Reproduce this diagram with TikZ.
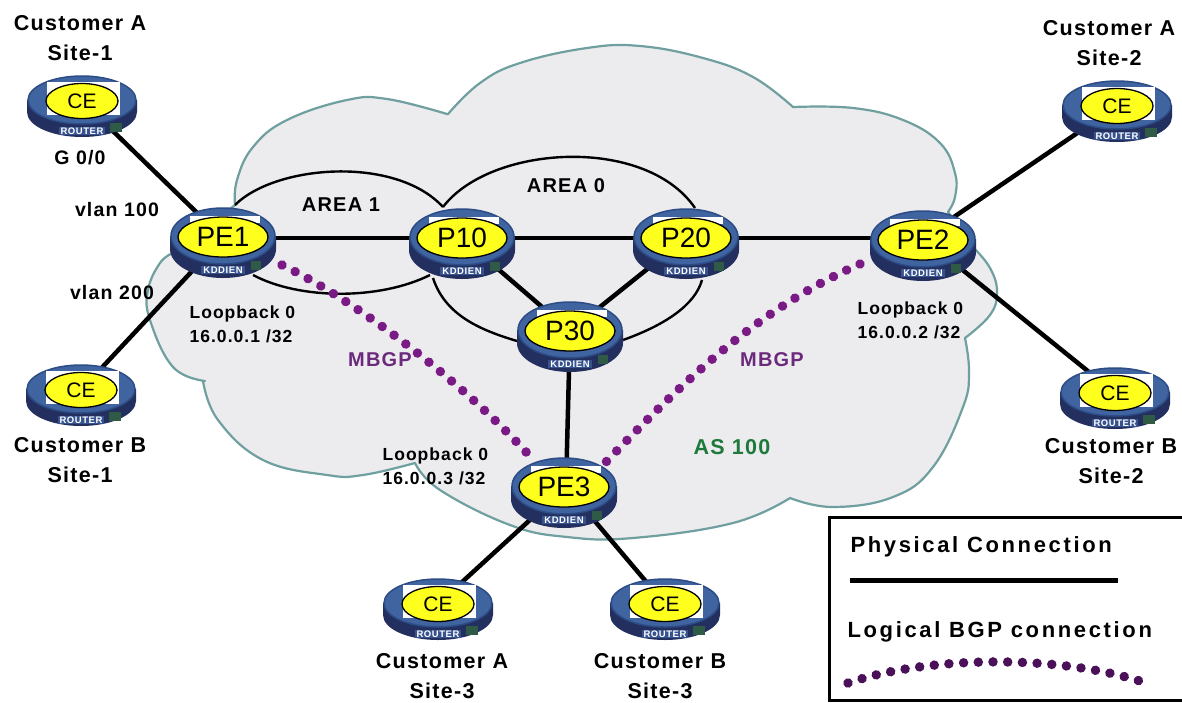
\documentclass[tikz,border=0pt]{standalone}
\usepackage{fontspec}
\setmainfont{Liberation Sans}
\newfontfamily\lsB[LetterSpace=12]{Liberation Sans}
\newfontfamily\lsC[LetterSpace=6]{Liberation Sans}
\usetikzlibrary{shapes.geometric}
\definecolor{cloudfill}{HTML}{ECEBEE}
\definecolor{cloudline}{HTML}{6F9F9F}
\definecolor{rblue}{HTML}{3F64A0}
\definecolor{rrim}{HTML}{2C4C86}
\definecolor{rdark}{HTML}{232F5E}
\definecolor{rstrip}{HTML}{36528F}
\definecolor{rgreen}{HTML}{2E5A46}
\definecolor{ryellow}{HTML}{FFFF1E}
\definecolor{mbgp}{HTML}{7A1A84}
\definecolor{mbgpdark}{HTML}{4A1058}
\definecolor{mbgptext}{HTML}{6B2A7B}
\definecolor{astext}{HTML}{1E7A3A}
\tikzset{
  thicklink/.style={line width=4.5pt,black},
  arealink/.style={line width=2.4pt,black},
  bgplink/.style={line width=9.5pt,mbgp,line cap=round,dash pattern=on 0.01pt off 14.7pt},
  bigface/.style={ellipse,draw=black,line width=1.3pt,fill=ryellow,minimum width=90pt,minimum height=40pt,inner sep=0pt,font=\fontsize{28}{28}\selectfont},
  ceface/.style={ellipse,draw=black,line width=1.3pt,fill=ryellow,minimum width=72pt,minimum height=35pt,inner sep=0pt,font=\fontsize{21}{21}\selectfont},
  strip/.style={fill=rstrip,text=white,inner xsep=2pt,inner ysep=1pt,font=\lsC\fontsize{9.5}{9.5}\bfseries\selectfont},
  site/.style={align=center,inner sep=0pt,font=\lsC\fontsize{21.5}{29.5}\bfseries\selectfont},
  port/.style={font=\lsC\fontsize{19.5}{19.5}\bfseries\selectfont},
  area/.style={font=\lsC\fontsize{20}{20}\bfseries\selectfont},
  loop/.style={align=left,anchor=west,font=\lsC\fontsize{17.5}{24}\bfseries\selectfont},
  bgptext/.style={text=mbgptext,font=\lsC\fontsize{20}{20}\bfseries\selectfont},
  legendtext/.style={anchor=west,font=\lsB\fontsize{22}{22}\bfseries\selectfont}
}
\newcommand\bigrouter[3]{%
  \begin{scope}[shift={(#2)}]
    \fill[rdark] (-53,12) arc[start angle=180,end angle=360,x radius=53pt,y radius=29pt] -- (53,-1) -- (-53,-1) -- cycle;
    \fill[rgreen] (28,24) rectangle (38,33);
    \filldraw[fill=rblue,draw=rrim,line width=1.5pt] (0,-1) ellipse[x radius=52pt,y radius=28pt];
    \fill[white] (-33,-21) rectangle (37,-14);
    \node[bigface] (#1) at (0,0) {#3};
    \node[strip] (#1tag) at (0,33) {KDDIEN};
  \end{scope}}
\newcommand\cerouter[2]{%
  \begin{scope}[shift={(#2)}]
    \fill[rdark] (-55,11) arc[start angle=180,end angle=360,x radius=55pt,y radius=25pt] -- (55,-1) -- (-55,-1) -- cycle;
    \fill[rgreen] (28,22) rectangle (40,31);
    \filldraw[fill=rblue,draw=rrim,line width=1.5pt] (0,-1) ellipse[x radius=54pt,y radius=24pt];
    \fill[white] (-35,-19) rectangle (38,14);
    \node[ceface] (#1) at (0,0) {CE};
    \node[strip] (#1tag) at (0,30) {ROUTER};
  \end{scope}}
\begin{document}
\begin{tikzpicture}[x=1pt,y=-1pt]
\useasboundingbox (0,0) rectangle (1182,702);
\fill[white] (0,0) rectangle (1182,702);
% cloud
\filldraw[fill=cloudfill,draw=cloudline,line width=2.2pt,line join=round]
  plot[smooth,tension=0.7] coordinates {(235,205) (237,180) (253,147) (287,120) (347,100) (387,99) (447,114)}
  -- plot[smooth,tension=0.7] coordinates {(448,114) (480,83) (520,63) (587,48) (640,46) (703,58) (753,77) (793,107)}
  -- plot[smooth,tension=0.7] coordinates {(793,107) (853,108) (903,120) (940,143) (955,173) (955,197) (948,212)}
  -- (973,247)
  -- plot[smooth,tension=0.7] coordinates {(973,247) (990,268) (997,292) (990,315) (965,338)}
  -- plot[smooth,tension=0.7] coordinates {(965,338) (969,372) (963,407) (933,467) (893,497) (833,507) (790,498)}
  -- plot[smooth,tension=0.7] coordinates {(790,498) (733,523) (633,538) (567,537) (510,525) (440,490) (415,463)}
  -- plot[smooth,tension=0.7] coordinates {(415,463) (363,475) (327,475) (263,460) (218,420) (203,381)}
  -- plot[smooth,tension=0.7] coordinates {(205,381) (173,367) (150,320) (148,290) (160,263) (173,253)}
  -- cycle;
% named ends of the area rings and BGP links
\coordinate (a1s) at (235,205);
\coordinate (a1e) at (443,207);
\coordinate (a1bs) at (253,275);
\coordinate (a1be) at (430,275);
\coordinate (a0e) at (695,208);
\coordinate (a0ls) at (433,278);
\coordinate (a0le) at (517,341);
\coordinate (a0rs) at (623,340);
\coordinate (a0re) at (702,280);
\coordinate (bg1s) at (282,265);
\coordinate (bg1e) at (527,453);
\coordinate (bg2s) at (860,264);
\coordinate (bg2e) at (605,463);
% area rings
\draw[arealink] (a1s) .. controls (275,165) and (395,155) .. (a1e);
\draw[arealink] (a1bs) .. controls (300,300) and (380,300) .. (a1be);
\draw[arealink] (a1e) .. controls (490,145) and (645,135) .. (a0e);
\draw[arealink] (a0ls) .. controls (445,315) and (480,330) .. (a0le);
\draw[arealink] (a0rs) .. controls (665,325) and (695,305) .. (a0re);
% node centres first: connectors are drawn behind the routers
\coordinate (cPEa) at (223,238);
\coordinate (cPEb) at (923,238);
\coordinate (cPEc) at (566,487);
\coordinate (cPa) at (462,238);
\coordinate (cPb) at (686,238);
\coordinate (cPc) at (570,331);
\coordinate (cCa) at (82,101);
\coordinate (cCb) at (81,390);
\coordinate (cCc) at (1117,106);
\coordinate (cCd) at (1115,393);
\coordinate (cCe) at (438,604);
\coordinate (cCf) at (665,604);
\draw[thicklink] (cCa) -- (cPEa);
\draw[thicklink] (cCb) -- (cPEa);
\draw[thicklink] (cPEa) -- (cPa);
\draw[thicklink] (cPa) -- (cPb);
\draw[thicklink] (cPb) -- (cPEb);
\draw[thicklink] (cPa) -- (cPc);
\draw[thicklink] (cPb) -- (cPc);
\draw[thicklink] (cPc) -- (cPEc);
\draw[thicklink] (cPEb) -- (cCc);
\draw[thicklink] (cPEb) -- (cCd);
\draw[thicklink] (cPEc) -- (cCe);
\draw[thicklink] (cPEc) -- (cCf);
% routers
\bigrouter{PEa}{223,237}{PE1}
\bigrouter{PEb}{923,240}{PE2}
\bigrouter{PEc}{564,487}{PE3}
\bigrouter{Pa}{462,238}{P10}
\bigrouter{Pb}{686,238}{P20}
\bigrouter{Pc}{570,331}{P30}
\cerouter{Ca}{82,101}
\cerouter{Cb}{81,390}
\cerouter{Cc}{1117,106}
\cerouter{Cd}{1115,393}
\cerouter{Ce}{438,604}
\cerouter{Cf}{665,604}
% BGP links
\draw[bgplink] (bg1s) .. controls (355,300) and (460,380) .. (bg1e);
\draw[bgplink] (bg2s) .. controls (755,310) and (680,385) .. (bg2e);
% labels
\node[site] (lCa) at (80,38) {Customer A\\Site-1};
\node[site] (lCb) at (80,460) {Customer B\\Site-1};
\node[site] (lCc) at (1109,43) {Customer A\\Site-2};
\node[site] (lCd) at (1111,461) {Customer B\\Site-2};
\node[site] (lCe) at (442,676) {Customer A\\Site-3};
\node[site] (lCf) at (660,676) {Customer B\\Site-3};
\node[port] (g00) at (80,158) {G 0/0};
\node[port] (v100) at (117,210) {vlan 100};
\node[port] (v200) at (112,293) {vlan 200};
\node[area] (ar1) at (341,205) {AREA 1};
\node[area] (ar0) at (566,186) {AREA 0};
\node[loop] (lo1) at (186,324) {Loopback 0\\16.0.0.1 /32};
\node[loop] (lo2) at (854,320) {Loopback 0\\16.0.0.2 /32};
\node[loop] (lo3) at (379,466) {Loopback 0\\16.0.0.3 /32};
\node[bgptext] (mb1) at (380,360) {MBGP};
\node[bgptext] (mb2) at (772,360) {MBGP};
\node[text=astext,font=\lsC\fontsize{21.5}{21.5}\bfseries\selectfont] (as) at (732,447) {AS 100};
% legend
\node[draw=black,line width=3pt,fill=white,minimum width=354pt,minimum height=183pt,inner sep=0pt] (legend) at (1006,608.5) {};
\node[legendtext] (lg1) at (847,547) {Physical Connection};
\node[legendtext] (lg2) at (844,632) {Logical BGP connection};
\coordinate (lg1a) at (850,580);
\coordinate (lg1b) at (1118,580);
\coordinate (lg2a) at (848,683);
\coordinate (lg2b) at (1143,682);
\draw[line width=5pt,black] (lg1a) -- (lg1b);
\draw[bgplink,mbgpdark] (lg2a) .. controls (930,655) and (1060,655) .. (lg2b);
\end{tikzpicture}
\end{document}
